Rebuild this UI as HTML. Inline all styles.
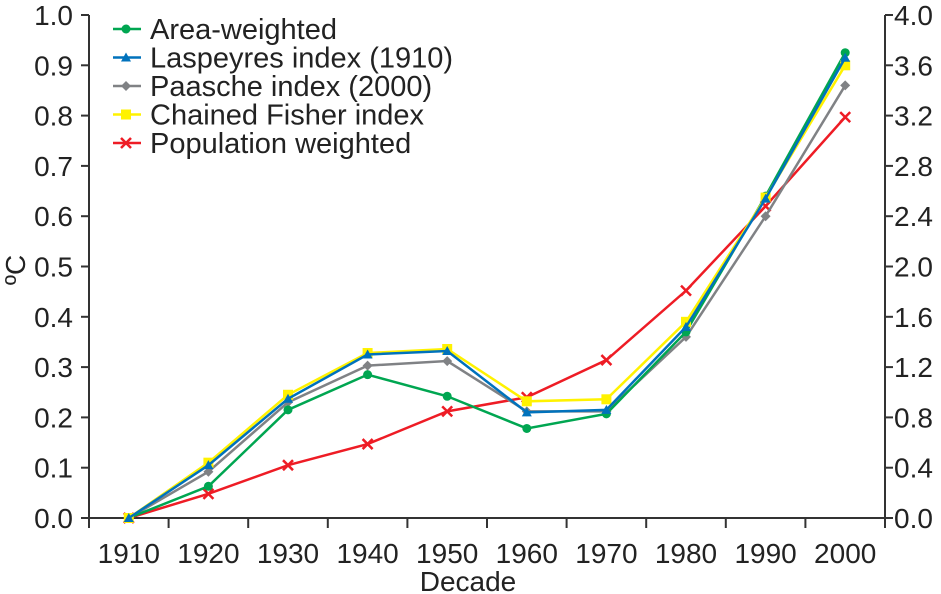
<!DOCTYPE html>
<html><head><meta charset="utf-8"><style>
body{margin:0;background:#fff}
svg{display:block;font-family:"Liberation Sans",sans-serif}
</style></head><body>
<svg id="c" width="941" height="594"></svg>
<script>
const categories=["1910","1920","1930","1940","1950","1960","1970","1980","1990","2000"];
const leftTicks=["0.0","0.1","0.2","0.3","0.4","0.5","0.6","0.7","0.8","0.9","1.0"];
const rightTicks=["0.0","0.4","0.8","1.2","1.6","2.0","2.4","2.8","3.2","3.6","4.0"];
const seriesNames=["Area-weighted","Laspeyres index (1910)","Paasche index (2000)","Chained Fisher index","Population weighted"];
const areaWeighted=[0,0.063,0.215,0.285,0.242,0.178,0.207,0.37,0.64,0.925];
const laspeyres=[0,0.105,0.237,0.325,0.332,0.21,0.215,0.38,0.635,0.915];
const paasche=[0,0.092,0.23,0.303,0.312,0.212,0.212,0.36,0.6,0.86];
const fisher=[0,0.11,0.245,0.328,0.336,0.232,0.236,0.39,0.637,0.9];
const population=[0,0.048,0.105,0.147,0.212,0.24,0.314,0.452,0.62,0.797];

const NS="http://www.w3.org/2000/svg",svg=document.getElementById('c');
const L=89,R=885,T=15,B=518;
const FS=28, LFS=29;
const bw=(R-L)/categories.length;
const x=i=>L+bw*(i+0.5);
const y=v=>B-(B-T)*v/1.0;
function el(t,a,p){const e=document.createElementNS(NS,t);for(const k in a)e.setAttribute(k,a[k]);(p||svg).appendChild(e);return e;}
const ax=el('g',{stroke:'#333','stroke-width':2});


el('line',{x1:L,y1:T,x2:L,y2:B+10},ax);
el('line',{x1:R,y1:T,x2:R,y2:B+10},ax);
el('line',{x1:L-8,y1:B,x2:R,y2:B},ax);
leftTicks.forEach((t,i)=>{const yy=y(i/10);
 el('line',{x1:L-8,y1:yy,x2:L,y2:yy},ax);
 const tx=el('text',{x:L-16,y:yy+10,'text-anchor':'end','font-size':FS,fill:'#222'});tx.textContent=t;
 
 
});
rightTicks.forEach((t,i)=>{const yy=y(i/10);
 el('line',{x1:R,y1:yy,x2:R+8,y2:yy},ax);
 const tx=el('text',{x:R+9,y:yy+10,'font-size':FS,fill:'#222'});tx.textContent=t;
 
 
});
categories.forEach((c,i)=>{
 el('line',{x1:L+bw*(i+1),y1:B,x2:L+bw*(i+1),y2:B+10},ax);
 const tx=el('text',{x:x(i),y:B+45,'text-anchor':'middle','font-size':FS,fill:'#222'});tx.textContent=c;
 
 
});
const xt=el('text',{x:468,y:591,'text-anchor':'middle','font-size':FS,fill:'#222'});xt.textContent="Decade";


const yt=el('text',{x:0,y:0,'text-anchor':'middle','font-size':FS,fill:'#222',transform:'translate(25,270) rotate(-90)'});yt.textContent="ºC";



function marker(g,type,cx,cy,col){
 if(type==='circle')el('circle',{cx,cy,r:4.5,fill:col},g);
 else if(type==='tri')el('polygon',{points:`${cx},${cy-5} ${cx-5},${cy+4} ${cx+5},${cy+4}`,fill:col},g);
 else if(type==='diamond')el('polygon',{points:`${cx},${cy-5} ${cx+5},${cy} ${cx},${cy+5} ${cx-5},${cy}`,fill:col},g);
 else if(type==='square')el('rect',{x:cx-5,y:cy-5,width:10,height:10,fill:col},g);
 else{el('path',{d:`M${cx-5} ${cy-5}L${cx+5} ${cy+5}M${cx+5} ${cy-5}L${cx-5} ${cy+5}`,stroke:col,'stroke-width':2.5},g);}
}
const series=[[population,'#ee1c25','star'],[paasche,'#808285','diamond'],[areaWeighted,'#00a651','circle'],[fisher,'#fff200','square'],[laspeyres,'#0072bc','tri']];
const names=['series-population','series-paasche','series-area-weighted','series-fisher','series-laspeyres'];
series.forEach((s,k)=>{
 const g=el('g',{});
 
 
 el('polyline',{points:s[0].map((v,i)=>x(i)+','+y(v)).join(' '),fill:'none',stroke:s[1],'stroke-width':2.5},g);
 s[0].forEach((v,i)=>marker(g,s[2],x(i),y(v),s[1]));
});
const leg=[['#00a651','circle'],['#0072bc','tri'],['#808285','diamond'],['#fff200','square'],['#ee1c25','star']];
const lg=el('g',{});


seriesNames.forEach((n,i)=>{
 const yy=29+i*28.5;
 const g=el('g',{},lg);
 
 
 el('line',{x1:113,y1:yy,x2:141,y2:yy,stroke:leg[i][0],'stroke-width':2.5},g);
 marker(g,leg[i][1],126,yy,leg[i][0]);
 const t=el('text',{x:150,y:yy+10,'font-size':LFS,fill:'#222'},g);t.textContent=n;
});
</script>
</body></html>
